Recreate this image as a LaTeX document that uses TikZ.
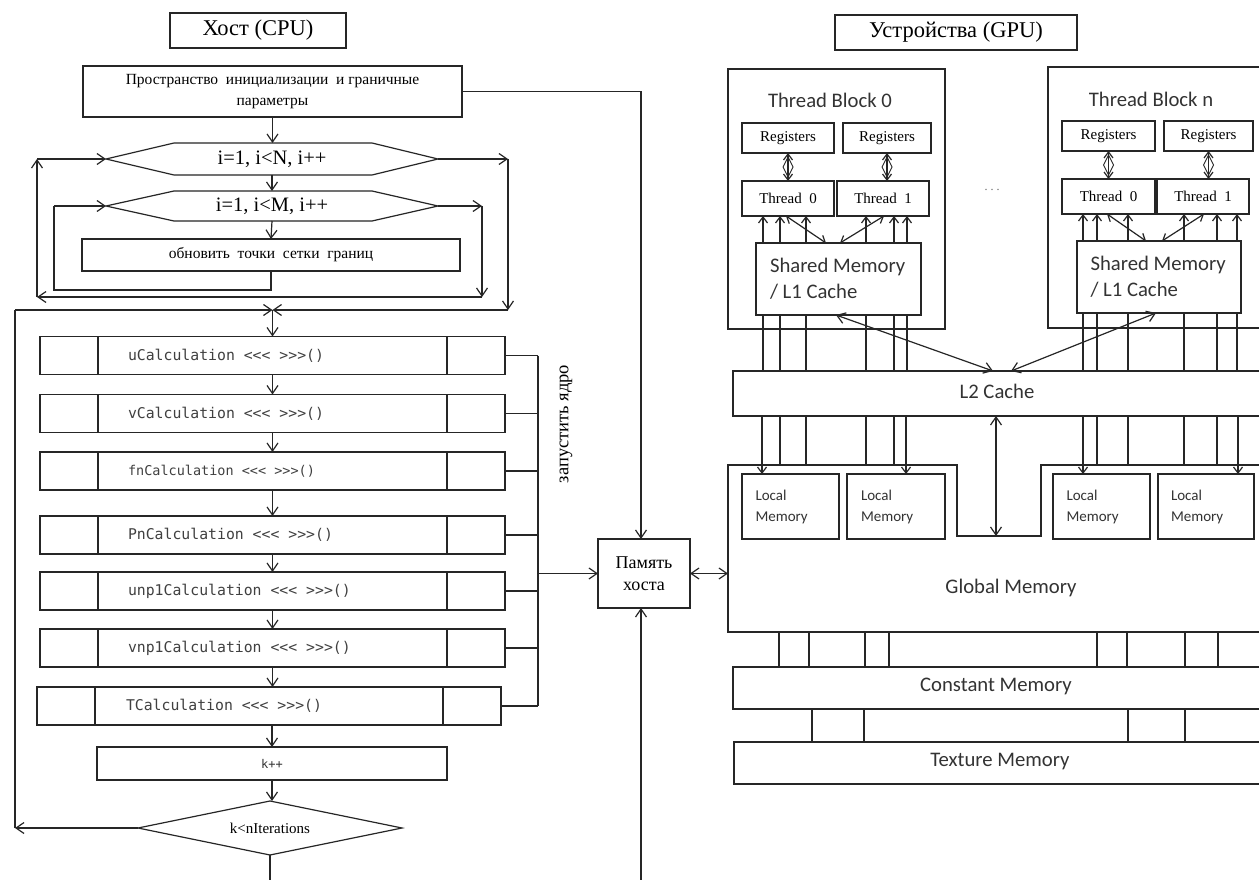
\documentclass[tikz,border=0pt]{standalone}
\usepackage{fontspec}
\setmainfont{Liberation Serif}
\newfontfamily\calfont{Carlito}
\newfontfamily\codefont{DejaVu Sans Mono}
\usetikzlibrary{arrows.meta,calc}

\tikzset{
  ln/.style={line width=1.2pt, draw=black!85},
  box/.style={rectangle, draw=black!85, line width=1.2pt, inner sep=0pt, outer sep=0pt},
  ghost/.style={rectangle, draw=none, inner sep=0pt, outer sep=0pt},
  arr/.style={ln, -{Straight Barb[length=8pt,width=11pt]}},
  darr/.style={ln, {Straight Barb[length=8pt,width=11pt]}-{Straight Barb[length=8pt,width=11pt]}},
  sarr/.style={ln, -{Straight Barb[length=6pt,width=9pt]}},
  sdarr/.style={ln, {Straight Barb[length=6pt,width=9pt]}-{Straight Barb[length=6pt,width=9pt]}},
  title/.style={font=\fontsize{22.5}{26}\selectfont},
  ru/.style={font=\fontsize{15.5}{21}\selectfont},
  loopt/.style={font=\fontsize{20.5}{22}\selectfont},
  small/.style={font=\fontsize{15}{17}\selectfont},
  cal/.style={font=\calfont\fontsize{20.7}{26}\selectfont, text=black!80},
  calsm/.style={font=\calfont\fontsize{15}{21}\selectfont, text=black!80, align=left},
}

% hollow double arrow between a register file and its thread
\newcommand\regarrow[2]{%
  \draw[sdarr] (#1.south) -- (#1.south |- #2.north);
  \draw[line width=0.9pt, draw=black!85]
    ($(#1.south)+(0,4)$) -- ($(#1.south)!0.5!(#1.south |- #2.north)+(-5,0)$)
    -- ($(#1.south |- #2.north)+(0,-4)$) -- ($(#1.south)!0.5!(#1.south |- #2.north)+(5,0)$) -- cycle;
}

\begin{document}
\begin{tikzpicture}[x=1pt,y=-1pt]
\path[use as bounding box] (0,0) rectangle (1259,880);
\fill[white] (0,0) rectangle (1259,880);
\clip (0,0) rectangle (1259,880);

% ---------------- host side ----------------
\node[box, title, minimum width=176, minimum height=35] (cpu) at (258,30.5) {Хост (CPU)};
\node[box, ru, minimum width=379, minimum height=51, align=center] (init) at (272.5,91.5)
  {Пространство\ \ инициализации\ \ и граничные\\параметры};

\node[ghost, loopt, minimum width=332, minimum height=32] (hexN) at (272,159) {i=1, i<N, i++};
\draw[ln] (hexN.west) -- ([xshift=68pt]hexN.north west) -- ([xshift=-66pt]hexN.north east)
  -- (hexN.east) -- ([xshift=-66pt]hexN.south east) -- ([xshift=68pt]hexN.south west) -- cycle;
\node[ghost, loopt, minimum width=332, minimum height=30] (hexM) at (272,206) {i=1, i<M, i++};
\draw[ln] (hexM.west) -- ([xshift=68pt]hexM.north west) -- ([xshift=-66pt]hexM.north east)
  -- (hexM.east) -- ([xshift=-66pt]hexM.south east) -- ([xshift=68pt]hexM.south west) -- cycle;
\node[box, ru, minimum width=378, minimum height=32] (upd) at (271,255)
  {обновить\ \ точки\ \ сетки\ \ границ};

\draw[arr] (init.south) -- (init.south |- hexN.north);
\draw[arr] (hexN.south) -- (hexM.north);
\draw[arr] (hexM.south) -- (upd.north);

% inner loop
\coordinate (il1) at (271,290);
\coordinate (il2) at (54,290);
\coordinate (il3) at (54,206);
\draw[ln] (upd.south) -- (il1) -- (il2) -- (il3);
\draw[arr] (il3) -- (hexM.west);

% exit of inner loop back to the outer loop
\coordinate (ex1) at (482,206);
\coordinate (ex2) at (482,297);
\coordinate (ex3) at (37,297);
\coordinate (ex4) at (37,159);
\draw[arr] (hexM.east) -- (ex1);
\draw[arr] (ex1) -- (ex2);
\draw[arr] (ex2) -- (ex3);
\draw[arr] (ex3) -- (ex4);
\draw[arr] (ex4) -- (hexN.west);

% exit of outer loop
\coordinate (ox1) at (508,159);
\coordinate (ox2) at (508,310);
\coordinate (mrg) at (272.5,310);
\draw[arr] (hexN.east) -- (ox1);
\draw[arr] (ox1) -- (ox2);
\draw[arr] (ox2) -- (mrg);

% kernel launches
\foreach \n/\cy/\t in {k1/355.5/uCalculation <<< >>>(), k2/413.5/vCalculation <<< >>>(),
    k4/535/PnCalculation <<< >>>(), k5/591/unp1Calculation <<< >>>(), k6/648/vnp1Calculation <<< >>>()}
  \node[box, minimum width=465, minimum height=38] (\n) at (272.5,\cy)
    {\codefont\fontsize{14.8}{17}\selectfont\color{black!75}\makebox[289pt][l]{\t}};
\node[box, minimum width=465, minimum height=38] (k3) at (272.5,471)
  {\codefont\fontsize{13.5}{17}\selectfont\color{black!75}\makebox[289pt][l]{fnCalculation <<< >>>()}};
\node[box, minimum width=464, minimum height=38] (k7) at (269,706)
  {\codefont\fontsize{14.8}{17}\selectfont\color{black!75}\makebox[286pt][l]{TCalculation <<< >>>()}};
\foreach \n in {k1,k2,k3,k4,k5,k6,k7}
  \draw[ln] ([xshift=58pt]\n.north west) -- ([xshift=58pt]\n.south west)
            ([xshift=-58pt]\n.north east) -- ([xshift=-58pt]\n.south east);

\draw[arr] (mrg) -- (k1.north);
\draw[arr] (k1.south) -- (k2.north);
\draw[arr] (k2.south) -- (k3.north);
\draw[arr] (k3.south) -- (k4.north);
\draw[arr] (k4.south) -- (k5.north);
\draw[arr] (k5.south) -- (k6.north);
\draw[arr] (k6.south) -- (k6.south |- k7.north);

\node[box, minimum width=350, minimum height=33, font=\codefont\fontsize{12}{14}\selectfont, text=black!80] (kpp) at (272,763.5) {k++};
\draw[arr] (kpp.north |- k7.south) -- (kpp.north);

\node[ghost, minimum width=264, minimum height=54, font=\fontsize{15}{17}\selectfont] (dia) at (270,828) {k<nIterations};
\draw[ln] (dia.west) -- (dia.north) -- (dia.east) -- (dia.south) -- cycle;
\draw[arr] (kpp.south) -- (kpp.south |- dia.north);
\coordinate (dend) at (270,885);
\draw[ln] (dia.south) -- (dend);

% iteration loop
\coordinate (kl1) at (15,828);
\coordinate (kl2) at (15,310);
\draw[arr] (dia.west) -- (kl1);
\draw[ln] (kl1) -- (kl2);
\draw[arr] (kl2) -- (mrg);

% host memory
\node[box, minimum width=92, minimum height=69, align=center, font=\fontsize{18}{22}\selectfont] (host) at (644,573.5) {Память\\хоста};

\foreach \n in {k1,k2,k3,k4,k5,k6,k7}
  \draw[ln] (\n.east) -- (538,0 |- \n.east);
\draw[ln] (538,0 |- k1.east) -- (538,0 |- k7.east);
\draw[arr] (538,0 |- host.west) -- (host.west);
\node[rotate=90, font=\fontsize{18.5}{20}\selectfont] (launch) at (566,424) {запустить ядро};

\coordinate (ih) at (641,91.5);
\draw[ln] (init.east) -- (ih);
\draw[arr] (ih) -- (ih |- host.north);
\coordinate (hb) at (641,885);
\draw[arr] (hb) -- (hb |- host.south);

% ---------------- device side ----------------
\node[box, title, minimum width=242, minimum height=35] (gpu) at (956,32.5) {Устройства (GPU)};

% thread block 0
\node[box, minimum width=217, minimum height=260] (tb0) at (836.5,199) {};
\node[cal] (tb0t) at (830,100) {Thread Block 0};
\node[box, small, minimum width=92, minimum height=30] (r00) at (788,138) {Registers};
\node[box, small, minimum width=88, minimum height=30] (r01) at (887,138) {Registers};
\node[box, small, minimum width=92, minimum height=35] (t00) at (788,198.5) {Thread\ \ 0};
\node[box, small, minimum width=92, minimum height=35] (t01) at (883,198.5) {Thread\ \ 1};
\node[box, cal, minimum width=165, minimum height=72, align=left] (sm0) at (838.5,279)
  {\makebox[137pt][l]{Shared Memory}\\/ L1 Cache};

% thread block n
\node[box, minimum width=232, minimum height=261] (tbn) at (1164,197.5) {};
\node[cal] (tbnt) at (1151,99) {Thread Block n};
\node[box, small, minimum width=93, minimum height=30] (rn0) at (1108.5,136) {Registers};
\node[box, small, minimum width=89, minimum height=30] (rn1) at (1208.5,136) {Registers};
\node[box, small, minimum width=93, minimum height=35] (tn0) at (1108.5,196.5) {Thread\ \ 0};
\node[box, small, minimum width=92, minimum height=35] (tn1) at (1203,196.5) {Thread\ \ 1};
\node[box, cal, minimum width=164, minimum height=72, align=left] (smn) at (1159,277)
  {\makebox[137pt][l]{Shared Memory}\\/ L1 Cache};

\node[font=\fontsize{12}{14}\selectfont, text=black!60] (dots) at (992,190) {.\ .\ .};

\regarrow{r00}{t00}
\regarrow{r01}{t01}
\regarrow{rn0}{tn0}
\regarrow{rn1}{tn1}

\foreach \x in {763,780,806} \draw[sarr] (\x,0 |- sm0.north) -- (\x,0 |- t00.south);
\foreach \x in {866,894,907} \draw[sarr] (\x,0 |- sm0.north) -- (\x,0 |- t01.south);
\draw[sdarr] (786,0 |- t00.south) -- (826,0 |- sm0.north);
\draw[sdarr] (884,0 |- t01.south) -- (840,0 |- sm0.north);

\foreach \x in {1083,1097,1128} \draw[sarr] (\x,0 |- smn.north) -- (\x,0 |- tn0.south);
\foreach \x in {1184,1217,1237} \draw[sarr] (\x,0 |- smn.north) -- (\x,0 |- tn1.south);
\draw[sdarr] (1107,0 |- tn0.south) -- (1146,0 |- smn.north);
\draw[sdarr] (1204,0 |- tn1.south) -- (1162,0 |- smn.north);

% L2 cache
\node[box, minimum width=547, minimum height=45] (l2) at (1006.5,393.5) {};
\node[cal] (l2t) at (997,391) {L2 Cache};

\foreach \x in {763,780,806,866,894,907} \draw[ln] (\x,0 |- sm0.south) -- (\x,0 |- l2.north);
\foreach \x in {1083,1097,1128,1184,1217,1237} \draw[ln] (\x,0 |- smn.south) -- (\x,0 |- l2.north);

\draw[darr] (836,0 |- sm0.south) -- (993,0 |- l2.north);
\draw[darr] (1011,0 |- l2.north) -- (1156,0 |- smn.south);

% global memory with its notch
\node[ghost, minimum width=552, minimum height=167] (gm) at (1004,548.5) {};
\coordinate (n1) at (957,536);
\coordinate (n2) at (1041,536);
\draw[ln] (gm.north west) -- (n1 |- gm.north) -- (n1) -- (n2) -- (n2 |- gm.north)
  -- (gm.north east) -- (gm.south east) -- (gm.south west) -- cycle;
\node[cal] (gmt) at (1011,588) {Global Memory};
\coordinate (notch) at (996,536);
\draw[darr] (996,0 |- l2.south) -- (notch);

\node[box, calsm, minimum width=97, minimum height=65, text width=70pt] (lm1) at (790.5,506.5) {Local\\Memory};
\node[box, calsm, minimum width=98, minimum height=65, text width=70pt] (lm2) at (896,506.5) {Local\\Memory};
\node[box, calsm, minimum width=97, minimum height=65, text width=70pt] (lm3) at (1101.5,506.5) {Local\\Memory};
\node[box, calsm, minimum width=96, minimum height=65, text width=70pt] (lm4) at (1206,506.5) {Local\\Memory};

\foreach \x in {780,806,866,894,1097,1128,1184,1217} \draw[ln] (\x,0 |- l2.south) -- (\x,0 |- gm.north);
\draw[sarr] (762,0 |- l2.south) -- (762,0 |- lm1.north);
\draw[sarr] (906,0 |- l2.south) -- (906,0 |- lm2.north);
\draw[sarr] (1083,0 |- l2.south) -- (1083,0 |- lm3.north);
\draw[sarr] (1238,0 |- l2.south) -- (1238,0 |- lm4.north);

\draw[darr] (host.east) -- (gm.west |- host.east);

% constant and texture memory
\node[box, minimum width=547, minimum height=42] (cm) at (1006.5,688) {};
\node[cal] (cmt) at (996,686) {Constant Memory};
\node[box, minimum width=546, minimum height=42] (tx) at (1007,763) {};
\node[cal] (txt) at (1000,762) {Texture Memory};

\foreach \x in {779,809,865,889,1097,1127,1185,1218} \draw[ln] (\x,0 |- gm.south) -- (\x,0 |- cm.north);
\foreach \x in {812,864,1128,1185} \draw[ln] (\x,0 |- cm.south) -- (\x,0 |- tx.north);
\end{tikzpicture}
\end{document}
